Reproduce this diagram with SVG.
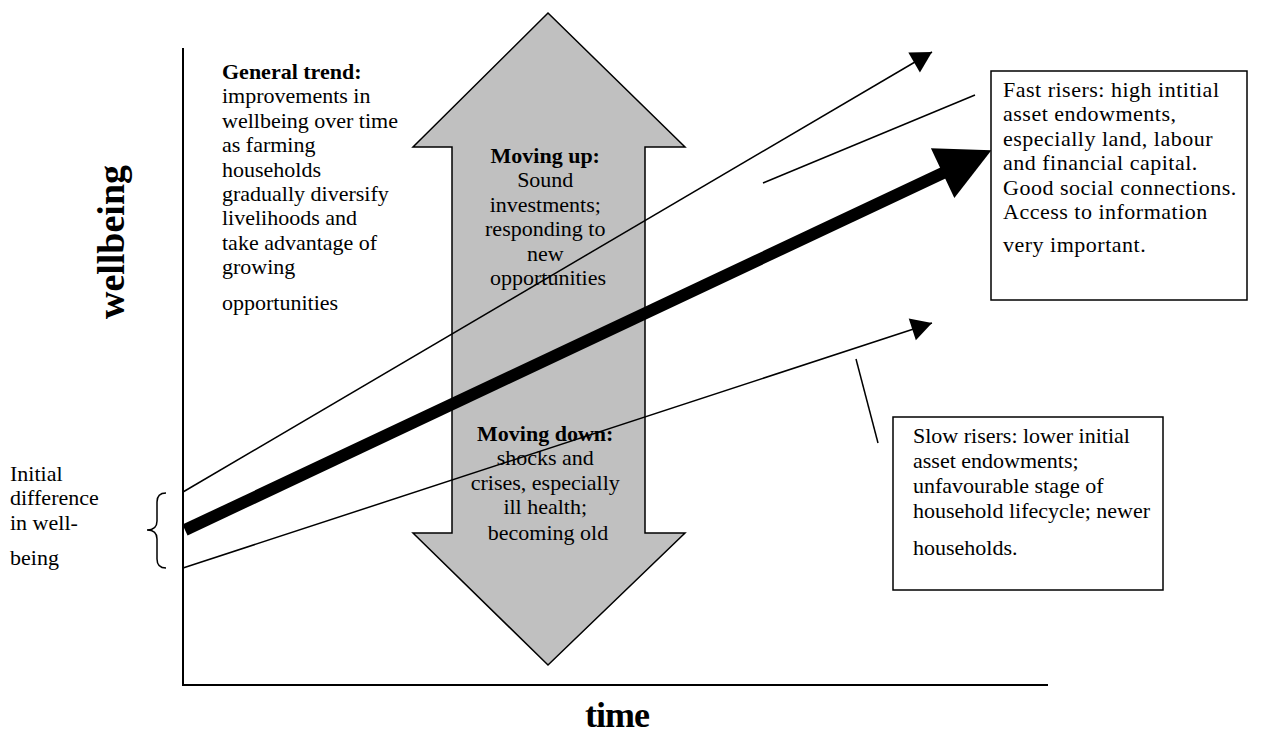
<svg xmlns="http://www.w3.org/2000/svg" width="1265" height="736" viewBox="0 0 1265 736">
<style>
.t{font-family:"Liberation Serif","Times New Roman",serif;font-size:22px;fill:#000}
.b{font-weight:bold}
.c{text-anchor:middle}
.ln{stroke:#000;stroke-width:1.5;fill:none}
.ax{stroke:#000;stroke-width:2;fill:none}
.box{fill:#fff;stroke:#000;stroke-width:1.5}
</style>
<defs>
<marker id="ah" markerUnits="userSpaceOnUse" markerWidth="24" markerHeight="24" viewBox="0 -11 20 22" refX="19" refY="0" orient="auto">
<path d="M0,-10.5 L19,0 L0,10.5 z" fill="#000"/>
</marker>
<marker id="ahBig" markerUnits="userSpaceOnUse" markerWidth="56" markerHeight="56" viewBox="0 -27 53 54" refX="10" refY="0" orient="auto">
<path d="M0,-26.5 L52,0 L0,26.5 z" fill="#000"/>
</marker>
</defs>
<rect width="1265" height="736" fill="#fff"/>
<g id="axes">
<line class="ax" x1="183" y1="48" x2="183" y2="686"/>
<line class="ax" x1="182" y1="685" x2="1048" y2="685"/>
<text class="t b" transform="translate(124,242) rotate(-90)" text-anchor="middle" style="font-size:38px">wellbeing</text>
<text class="t b" x="617" y="727" text-anchor="middle" style="font-size:36px;letter-spacing:-1px">time</text>
</g>
<g id="updown-arrow">
<polygon points="548,13 685,147 645,147 645,533 685,533 548,665 413,533 452,533 452,147 413,147" fill="#c0c0c0" stroke="#000" stroke-width="1.5"/>
</g>
<g id="general-trend">
<text class="t" x="222" y="79"><tspan class="b">General trend:</tspan>
<tspan x="222" dy="24.4">improvements in</tspan>
<tspan x="222" dy="24.4">wellbeing over time</tspan>
<tspan x="222" dy="24.4">as farming</tspan>
<tspan x="222" dy="24.4">households</tspan>
<tspan x="222" dy="24.4">gradually diversify</tspan>
<tspan x="222" dy="24.4">livelihoods and</tspan>
<tspan x="222" dy="24.4">take advantage of</tspan>
<tspan x="222" dy="24.4">growing</tspan>
<tspan x="222" dy="36">opportunities</tspan></text>
</g>
<g id="moving-up">
<text class="t c" x="548" y="163"><tspan class="b">Moving up:</tspan>
<tspan x="548" dy="24.4">Sound</tspan>
<tspan x="548" dy="24.4">investments;</tspan>
<tspan x="548" dy="24.4">responding to</tspan>
<tspan x="548" dy="24.4">new</tspan>
<tspan x="548" dy="24.4">opportunities</tspan></text>
</g>
<g id="connectors">
<line class="ln" x1="183" y1="492" x2="932" y2="52" marker-end="url(#ah)"/>
<line class="ln" x1="183" y1="568" x2="932" y2="323" marker-end="url(#ah)"/>
<line x1="185" y1="530" x2="952" y2="168.7" stroke="#000" stroke-width="12" marker-end="url(#ahBig)"/>
<line class="ln" x1="975" y1="95" x2="763" y2="183"/>
<line class="ln" x1="856" y1="359" x2="878" y2="443"/>
<path class="ln" d="M166,493 Q157,493 157,502 L157,521 Q157,530 147,530 Q157,530 157,539 L157,559 Q157,568 166,568"/>
</g>
<g id="moving-down">
<text class="t c" x="548" y="441"><tspan class="b">Moving down:</tspan>
<tspan x="548" dy="24.4">shocks and</tspan>
<tspan x="548" dy="24.4">crises, especially</tspan>
<tspan x="548" dy="24.4">ill health;</tspan>
<tspan x="548" dy="26">becoming old</tspan></text>
</g>
<g id="initial-difference">
<text class="t" x="10" y="481">Initial
<tspan x="10" dy="24.4">difference</tspan>
<tspan x="10" dy="24.4">in well-</tspan>
<tspan x="10" dy="35">being</tspan></text>
</g>
<g id="fast-risers">
<rect class="box" x="991" y="71" width="256" height="229"/>
<text class="t" x="1003" y="97" style="letter-spacing:0.5px">Fast risers: high intitial
<tspan x="1003" dy="24.4">asset endowments,</tspan>
<tspan x="1003" dy="24.4">especially land, labour</tspan>
<tspan x="1003" dy="24.4">and financial capital.</tspan>
<tspan x="1003" dy="24.4">Good social connections.</tspan>
<tspan x="1003" dy="24.4">Access to information</tspan>
<tspan x="1003" dy="33">very important.</tspan></text>
</g>
<g id="slow-risers">
<rect class="box" x="893" y="417" width="270" height="173"/>
<text class="t" x="913" y="443">Slow risers: lower initial
<tspan x="913" dy="25">asset endowments;</tspan>
<tspan x="913" dy="25">unfavourable stage of</tspan>
<tspan x="913" dy="25">household lifecycle; newer</tspan>
<tspan x="913" dy="37">households.</tspan></text>
</g>
</svg>
